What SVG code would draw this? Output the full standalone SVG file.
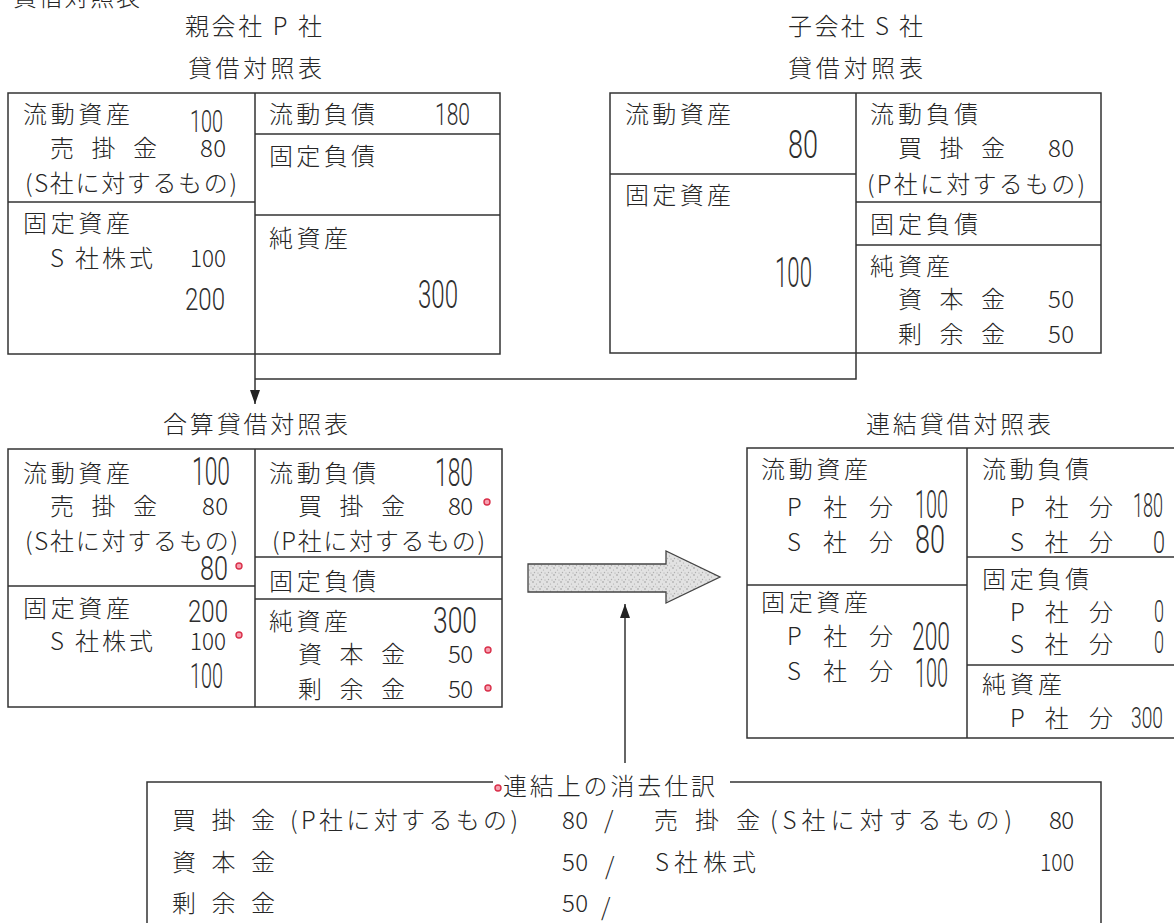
<svg xmlns="http://www.w3.org/2000/svg" width="1174" height="923" viewBox="0 0 1174 923">
<style>
.t{font-family:"Noto Sans CJK JP","Liberation Sans",sans-serif;font-size:24px;fill:#262626;font-weight:300}
.h{font-family:Roboto,"Liberation Sans",sans-serif;font-weight:300;fill:#2e2e2e}
.box{fill:none;stroke:#333;stroke-width:1.5}
.ln{fill:none;stroke:#333;stroke-width:1.5}
.dot{fill:#f7a0b0;stroke:#d9304a;stroke-width:1.4}
</style>
<defs>
<marker id="ah" viewBox="0 0 14 10" refX="14" refY="5" markerWidth="14" markerHeight="10" orient="auto" markerUnits="userSpaceOnUse">
<path d="M0,0 L14,5 L0,10 z" fill="#222"/>
</marker>
<pattern id="stip" width="7" height="7" patternUnits="userSpaceOnUse">
<rect width="7" height="7" fill="#e2e2e2"/>
<circle cx="1" cy="1" r="0.8" fill="#9a9a9a"/>
<circle cx="4.5" cy="3" r="0.6" fill="#aaa"/>
<circle cx="2.5" cy="5.5" r="0.7" fill="#b0b0b0"/>
<circle cx="6" cy="6" r="0.5" fill="#999"/>
</pattern>
</defs>

<g id="top-caption">
<text class="t" x="13" y="6" textLength="127">貸借対照表</text>
</g>

<g id="bs-p">
<text class="t" x="185" y="35" textLength="137">親会社 P 社</text>
<text class="t" x="188" y="77" textLength="134">貸借対照表</text>
<rect class="box" x="8" y="93" width="492" height="261"/>
<path class="ln" d="M255,93 V354 M8,202 H255 M255,134 H500 M255,215 H500"/>
<text class="t" x="23" y="123" textLength="107">流動資産</text>
<text class="h" x="190" y="132" font-size="31" textLength="33" lengthAdjust="spacingAndGlyphs">100</text>
<text class="t" x="50" y="157" textLength="107">売 掛 金</text>
<text class="t" x="200" y="157" textLength="26">80</text>
<text class="t" x="25" y="192" textLength="212">(S社に対するもの)</text>
<text class="t" x="23" y="232" textLength="107">固定資産</text>
<text class="t" x="50" y="267" textLength="103">S 社株式</text>
<text class="t" x="190" y="267" textLength="36" lengthAdjust="spacingAndGlyphs">100</text>
<text class="h" x="185" y="310" font-size="32" textLength="40" lengthAdjust="spacingAndGlyphs">200</text>
<text class="t" x="269" y="123" textLength="106">流動負債</text>
<text class="h" x="435" y="125" font-size="32" textLength="35" lengthAdjust="spacingAndGlyphs">180</text>
<text class="t" x="269" y="165" textLength="106">固定負債</text>
<text class="t" x="269" y="247" textLength="79">純資産</text>
<text class="h" x="418" y="308" font-size="38" textLength="40" lengthAdjust="spacingAndGlyphs">300</text>
</g>

<g id="bs-s">
<text class="t" x="788" y="35" textLength="135">子会社 S 社</text>
<text class="t" x="788" y="77" textLength="135">貸借対照表</text>
<rect class="box" x="610" y="93" width="491" height="260"/>
<path class="ln" d="M856,93 V353 M610,174 H856 M856,202 H1101 M856,245 H1101"/>
<text class="t" x="625" y="123" textLength="106">流動資産</text>
<text class="h" x="788" y="158" font-size="39" textLength="30" lengthAdjust="spacingAndGlyphs">80</text>
<text class="t" x="625" y="204" textLength="106">固定資産</text>
<text class="h" x="775" y="287" font-size="42" textLength="37" lengthAdjust="spacingAndGlyphs">100</text>
<text class="t" x="870" y="123" textLength="108">流動負債</text>
<text class="t" x="898" y="157" textLength="107">買 掛 金</text>
<text class="t" x="1048" y="157" textLength="26">80</text>
<text class="t" x="867" y="193" textLength="218">(P社に対するもの)</text>
<text class="t" x="870" y="233" textLength="108">固定負債</text>
<text class="t" x="870" y="275" textLength="80">純資産</text>
<text class="t" x="898" y="308" textLength="107">資 本 金</text>
<text class="t" x="1048" y="308" textLength="26">50</text>
<text class="t" x="898" y="343" textLength="107">剰 余 金</text>
<text class="t" x="1048" y="343" textLength="26">50</text>
</g>

<g id="bs-combined">
<text class="t" x="163" y="433" textLength="185">合算貸借対照表</text>
<rect class="box" x="8" y="449" width="494" height="258"/>
<path class="ln" d="M255,449 V707 M8,586 H255 M255,557 H502 M255,599 H502"/>
<text class="t" x="23" y="482" textLength="107">流動資産</text>
<text class="h" x="192" y="485" font-size="38" textLength="38" lengthAdjust="spacingAndGlyphs">100</text>
<text class="t" x="50" y="515" textLength="107">売 掛 金</text>
<text class="t" x="202" y="515" textLength="26">80</text>
<text class="t" x="25" y="550" textLength="213">(S社に対するもの)</text>
<text class="h" x="200" y="580" font-size="33" textLength="28" lengthAdjust="spacingAndGlyphs">80</text>
<circle class="dot" cx="239" cy="566" r="3"/>
<text class="t" x="23" y="617" textLength="107">固定資産</text>
<text class="h" x="188" y="622" font-size="32" textLength="40" lengthAdjust="spacingAndGlyphs">200</text>
<text class="t" x="50" y="650" textLength="103">S 社株式</text>
<text class="t" x="190" y="650" textLength="36" lengthAdjust="spacingAndGlyphs">100</text>
<circle class="dot" cx="239" cy="635" r="3"/>
<text class="h" x="190" y="688" font-size="35" textLength="33" lengthAdjust="spacingAndGlyphs">100</text>
<text class="t" x="269" y="482" textLength="107">流動負債</text>
<text class="h" x="435" y="486" font-size="39" textLength="38" lengthAdjust="spacingAndGlyphs">180</text>
<text class="t" x="298" y="515" textLength="107">買 掛 金</text>
<text class="t" x="448" y="515" textLength="25">80</text>
<circle class="dot" cx="487" cy="502" r="3"/>
<text class="t" x="272" y="550" textLength="213">(P社に対するもの)</text>
<text class="t" x="269" y="590" textLength="107">固定負債</text>
<text class="t" x="269" y="630" textLength="79">純資産</text>
<text class="h" x="433" y="633" font-size="36" textLength="44" lengthAdjust="spacingAndGlyphs">300</text>
<text class="t" x="298" y="663" textLength="107">資 本 金</text>
<text class="t" x="448" y="663" textLength="25">50</text>
<circle class="dot" cx="488" cy="650" r="3"/>
<text class="t" x="298" y="698" textLength="107">剰 余 金</text>
<text class="t" x="448" y="698" textLength="25">50</text>
<circle class="dot" cx="488" cy="688" r="3"/>
</g>

<g id="block-arrow">
<polygon points="528,564 666,564 666,551 720,577 666,603 666,592 528,592" fill="url(#stip)" stroke="#444" stroke-width="1.3"/>
</g>

<g id="bs-consolidated">
<text class="t" x="866" y="433" textLength="185">連結貸借対照表</text>
<path class="ln" d="M1180,448 H747 V738 H1180 M967,448 V738 M747,585 H967 M967,557 H1180 M967,665 H1180"/>
<text class="t" x="761" y="478" textLength="107">流動資産</text>
<text class="t" x="787" y="516" textLength="106">P 社 分</text>
<text class="h" x="915" y="518" font-size="39" textLength="33" lengthAdjust="spacingAndGlyphs" fill="#555">100</text>
<text class="t" x="787" y="551" textLength="106">S 社 分</text>
<text class="h" x="915" y="553" font-size="39" textLength="30" lengthAdjust="spacingAndGlyphs" fill="#555">80</text>
<text class="t" x="761" y="611" textLength="107">固定資産</text>
<text class="t" x="787" y="645" textLength="106">P 社 分</text>
<text class="h" x="912" y="650" font-size="39" textLength="38" lengthAdjust="spacingAndGlyphs" fill="#666">200</text>
<text class="t" x="787" y="680" textLength="106">S 社 分</text>
<text class="h" x="915" y="687" font-size="40" textLength="33" lengthAdjust="spacingAndGlyphs" fill="#666">100</text>
<text class="t" x="982" y="478" textLength="107">流動負債</text>
<text class="t" x="1010" y="516" textLength="103">P 社 分</text>
<text class="h" x="1133" y="517" font-size="34" textLength="30" lengthAdjust="spacingAndGlyphs" fill="#555">180</text>
<text class="t" x="1010" y="551" textLength="103">S 社 分</text>
<text class="h" x="1153" y="553" font-size="32" textLength="12" lengthAdjust="spacingAndGlyphs" fill="#555">0</text>
<text class="t" x="982" y="588" textLength="107">固定負債</text>
<text class="t" x="1010" y="621" textLength="103">P 社 分</text>
<text class="h" x="1154" y="622" font-size="31" textLength="10" lengthAdjust="spacingAndGlyphs" fill="#888">0</text>
<text class="t" x="1010" y="653" textLength="103">S 社 分</text>
<text class="h" x="1154" y="653" font-size="32" textLength="10" lengthAdjust="spacingAndGlyphs" fill="#999">0</text>
<text class="t" x="982" y="693" textLength="80">純資産</text>
<text class="t" x="1010" y="727" textLength="103">P 社 分</text>
<text class="h" x="1131" y="728" font-size="30" textLength="32" lengthAdjust="spacingAndGlyphs" fill="#999">300</text>
</g>

<g id="elimination">
<path class="ln" d="M493,782 H147 V930 M730,782 H1101 V930"/>
<circle class="dot" cx="498" cy="788" r="3"/>
<text class="t" x="503" y="795" textLength="212">連結上の消去仕訳</text>
<text class="t" x="172" y="829" textLength="103">買 掛 金</text>
<text class="t" x="290" y="829" textLength="228">(P社に対するもの)</text>
<text class="t" x="562" y="829" textLength="26">80</text>
<text class="t" x="604" y="829">/</text>
<text class="t" x="654" y="829" textLength="106">売 掛 金</text>
<text class="t" x="770" y="829" textLength="242">(S社に対するもの)</text>
<text class="t" x="1049" y="829" textLength="25">80</text>
<text class="t" x="172" y="871" textLength="103">資 本 金</text>
<text class="t" x="562" y="871" textLength="26">50</text>
<text class="t" x="605" y="875" font-size="30">/</text>
<text class="t" x="655" y="871" textLength="101">S社株式</text>
<text class="t" x="1040" y="871" textLength="34" lengthAdjust="spacingAndGlyphs">100</text>
<text class="t" x="172" y="912" textLength="103">剰 余 金</text>
<text class="t" x="562" y="912" textLength="26">50</text>
<text class="t" x="601" y="916" font-size="30">/</text>
</g>

<g id="connectors">
<path class="ln" d="M255,354 V404" marker-end="url(#ah)"/>
<path class="ln" d="M856,353 V379 H255"/>
<path class="ln" d="M625,763 V604" marker-end="url(#ah)"/>
</g>
</svg>
